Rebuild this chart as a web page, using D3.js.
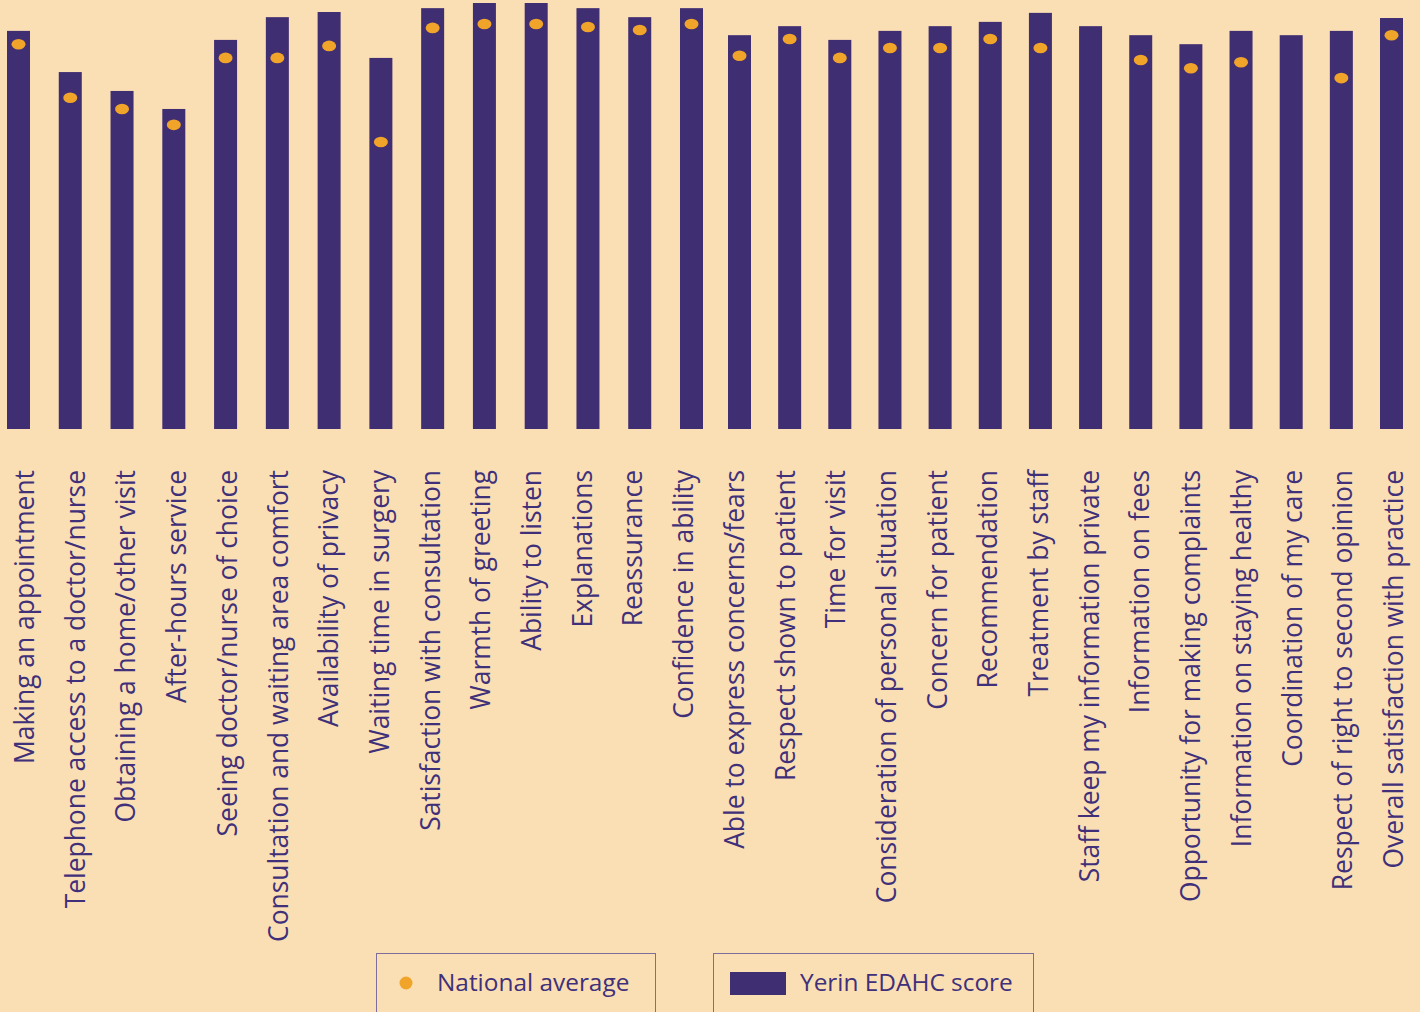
<!DOCTYPE html>
<html>
<head>
<meta charset="utf-8">
<script src="https://cdn.jsdelivr.net/npm/d3@7"></script>
<style>
  html, body { margin: 0; padding: 0; background: #fadfb4; }
  svg { display: block; font-family: "Open Sans", sans-serif; }
</style>
</head>
<body>
<svg id="chart" width="1420" height="1012"></svg>
<script>
// categories, left to right
const categories = [
  "Making an appointment",
  "Telephone access to a doctor/nurse",
  "Obtaining a home/other visit",
  "After-hours service",
  "Seeing doctor/nurse of choice",
  "Consultation and waiting area comfort",
  "Availability of privacy",
  "Waiting time in surgery",
  "Satisfaction with consultation",
  "Warmth of greeting",
  "Ability to listen",
  "Explanations",
  "Reassurance",
  "Confidence in ability",
  "Able to express concerns/fears",
  "Respect shown to patient",
  "Time for visit",
  "Consideration of personal situation",
  "Concern for patient",
  "Recommendation",
  "Treatment by staff",
  "Staff keep my information private",
  "Information on fees",
  "Opportunity for making complaints",
  "Information on staying healthy",
  "Coordination of my care",
  "Respect of right to second opinion",
  "Overall satisfaction with practice"
];

// Yerin EDAHC score (%)
const practiceScore = [
  92.8, 83.2, 78.8, 74.6, 90.7, 96.0, 97.2, 86.5, 98.1, 99.3,
  99.3, 98.1, 96.0, 98.1, 91.8, 93.9, 90.7, 92.8, 93.9, 94.9,
  97.0, 93.9, 91.8, 89.7, 92.8, 91.8, 92.8, 95.8
];

// National average (%), null where none is shown
const nationalAverage = [
  89.7, 77.2, 74.6, 70.9, 86.5, 86.5, 89.3, 66.9, 93.5, 94.4,
  94.4, 93.7, 93.0, 94.4, 87.0, 90.9, 86.5, 88.8, 88.8, 90.9,
  88.8, null, 86.0, 84.1, 85.5, null, 81.8, 91.8
];

const legendLabels = ["National average", "Yerin EDAHC score"];

const barColor = "#402e72";
const dotColor = "#f0a42a";
const textColor = "#40307a";

const svg = d3.select("#chart");

const data = categories.map((c, i) => ({
  key: c, i: i, score: practiceScore[i], national: nationalAverage[i]
}));

const barWidth = 23;
const baseY = 429;

// bar left edge by index (the source spacing is slightly tighter on the right half)
const sx = d3.scaleLinear()
  .domain([0, 13, 14, 27])
  .range([7, 680, 728, 1380]);

// label baselines are evenly spaced on their own
const sl = d3.scaleLinear()
  .domain([0, 27])
  .range([34, 1403]);

const sy = d3.scaleLinear()
  .domain([0, 100])
  .range([baseY, 0]);

svg.append("rect")
  .attr("width", 1420).attr("height", 1012)
  .attr("fill", "#fadfb4");

svg.append("g")
  .selectAll("rect")
  .data(data)
  .join("rect")
  .attr("x", d => sx(d.i))
  .attr("y", d => sy(d.score))
  .attr("width", barWidth)
  .attr("height", d => sy(0) - sy(d.score))
  .attr("fill", barColor);

svg.append("g")
  .selectAll("ellipse")
  .data(data.filter(d => d.national != null))
  .join("ellipse")
  .attr("cx", d => sx(d.i) + barWidth / 2)
  .attr("cy", d => sy(d.national))
  .attr("rx", 7)
  .attr("ry", 5.3)
  .attr("fill", dotColor);

// rotated category labels
svg.append("g")
  .selectAll("text")
  .data(data)
  .join("text")
  .attr("transform", d => `translate(${sl(d.i)},470) rotate(-90)`)
  .attr("text-anchor", "end")
  .attr("font-size", 26.4)
  .attr("fill", textColor)
  .text(d => d.key);

// legend
const legend = svg.append("g");

legend.append("rect")
  .attr("x", 376.5).attr("y", 953.5)
  .attr("width", 279).attr("height", 80)
  .attr("fill", "none")
  .attr("stroke", "#7d6d9c")
  .attr("stroke-width", 1);

legend.append("circle")
  .attr("cx", 406).attr("cy", 983)
  .attr("r", 6.5)
  .attr("fill", dotColor);

legend.append("text")
  .attr("x", 437).attr("y", 991)
  .attr("font-size", 24.4)
  .attr("fill", textColor)
  .text(legendLabels[0]);

legend.append("rect")
  .attr("x", 713.5).attr("y", 953.5)
  .attr("width", 320).attr("height", 80)
  .attr("fill", "none")
  .attr("stroke", "#7d6d9c")
  .attr("stroke-width", 1);

legend.append("rect")
  .attr("x", 730).attr("y", 972)
  .attr("width", 56).attr("height", 23)
  .attr("fill", barColor);

legend.append("text")
  .attr("x", 800).attr("y", 991)
  .attr("font-size", 24.4)
  .attr("fill", textColor)
  .text(legendLabels[1]);
</script>
</body>
</html>
